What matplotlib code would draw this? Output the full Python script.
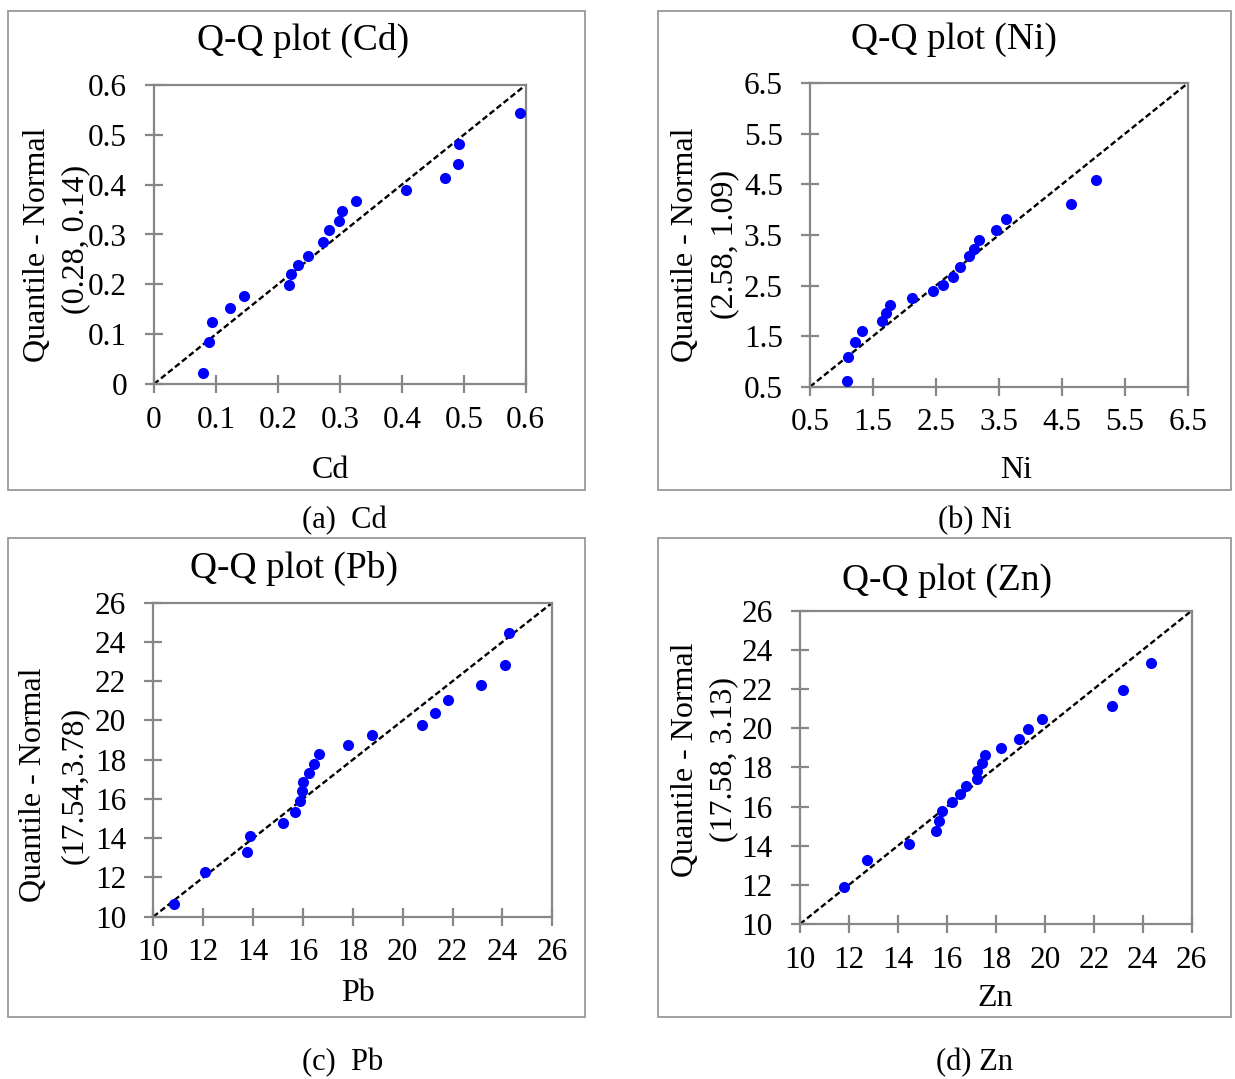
import matplotlib
matplotlib.use('Agg')
import matplotlib.pyplot as plt
from matplotlib.patches import Rectangle

plt.rcParams['font.family'] = 'Liberation Serif'

W, H = 1235, 1079

# ---------------- data ----------------
cd_x = [0.079, 0.089, 0.093, 0.123, 0.146, 0.218, 0.221, 0.233, 0.248, 0.273,
        0.283, 0.298, 0.304, 0.326, 0.406, 0.469, 0.491, 0.493, 0.590]
cd_y = [0.023, 0.085, 0.124, 0.153, 0.177, 0.199, 0.220, 0.238, 0.257, 0.284,
        0.309, 0.327, 0.347, 0.367, 0.389, 0.414, 0.442, 0.481, 0.543]
cd_ticks = [0, 0.1, 0.2, 0.3, 0.4, 0.5, 0.6]
cd_labels = ['0', '0.1', '0.2', '0.3', '0.4', '0.5', '0.6']

ni_x = [1.08, 1.11, 1.21, 1.33, 1.65, 1.71, 1.77, 2.12, 2.45, 2.62,
        2.77, 2.88, 3.02, 3.11, 3.19, 3.45, 3.62, 4.65, 5.04]
ni_y = [0.61, 1.08, 1.38, 1.60, 1.80, 1.96, 2.11, 2.25, 2.40, 2.52,
        2.66, 2.87, 3.08, 3.23, 3.40, 3.59, 3.81, 4.11, 4.58]
ni_ticks = [0.5, 1.5, 2.5, 3.5, 4.5, 5.5, 6.5]
ni_labels = ['0.5', '1.5', '2.5', '3.5', '4.5', '5.5', '6.5']

pb_x = [10.84, 12.09, 13.76, 13.86, 15.19, 15.69, 15.87, 15.96, 15.99, 16.23,
        16.43, 16.64, 17.81, 18.76, 20.76, 21.28, 21.82, 23.14, 24.09, 24.28]
pb_y = [10.65, 12.29, 13.31, 14.09, 14.76, 15.35, 15.88, 16.39, 16.86, 17.32,
        17.78, 18.27, 18.75, 19.24, 19.78, 20.36, 21.02, 21.79, 22.81, 24.47]

zn_x = [11.81, 12.72, 14.44, 15.54, 15.68, 15.80, 16.20, 16.55, 16.77, 17.23,
        17.23, 17.45, 17.56, 18.21, 18.93, 19.30, 19.89, 22.76, 23.18, 24.34]
zn_y = [11.89, 13.25, 14.09, 14.77, 15.28, 15.75, 16.21, 16.64, 17.05, 17.39,
        17.81, 18.20, 18.61, 19.00, 19.46, 19.94, 20.47, 21.13, 21.95, 23.33]

big_ticks = [10, 12, 14, 16, 18, 20, 22, 24, 26]
big_labels = ['10', '12', '14', '16', '18', '20', '22', '24', '26']

GRAY = '#878787'


def fx(x):
    return x / W


def fy(y):
    return 1 - y / H


def panel(fig, ax_px, box_px, x, y, ticks, labels, title, title_px,
          xlabel, xlabel_px, ylab1_px, ylab2, ylab2_px, caption, caption_px):
    # outer gray box
    x0, y0, x1, y1 = box_px
    fig.add_artist(Rectangle((fx(x0), fy(y1)), (x1 - x0) / W, (y1 - y0) / H,
                             transform=fig.transFigure, fill=False,
                             edgecolor='#999999', linewidth=1.3))
    a0, b0, a1, b1 = ax_px
    ax = fig.add_axes([fx(a0), fy(b1), (a1 - a0) / W, (b1 - b0) / H])
    lo, hi = ticks[0], ticks[-1]
    ax.plot([lo, hi], [lo, hi], color='black', linestyle=(0, (2.5, 1.3)),
            linewidth=1.7, zorder=2)
    ax.scatter(x, y, s=64, color='#0000FF', zorder=3, linewidths=0)
    ax.set_xlim(lo, hi)
    ax.set_ylim(lo, hi)
    ax.set_xticks(ticks, labels)
    ax.set_yticks(ticks, labels)
    for sp in ax.spines.values():
        sp.set_color(GRAY)
        sp.set_linewidth(1.6)
    ax.tick_params(direction='inout', length=13, width=1.6, color=GRAY,
                   labelsize=22.5, labelcolor='black')
    ax.tick_params(axis='y', pad=13)
    ax.tick_params(axis='x', pad=9)

    fig.text(fx(title_px[0]), fy(title_px[1]), title, fontsize=27,
             ha='center', va='center')
    fig.text(fx(xlabel_px[0]), fy(xlabel_px[1]), xlabel, fontsize=23,
             ha='center', va='baseline')
    fig.text(fx(ylab1_px[0]), fy(ylab1_px[1]), 'Quantile - Normal', fontsize=23,
             ha='center', va='center', rotation=90)
    fig.text(fx(ylab2_px[0]), fy(ylab2_px[1]), ylab2, fontsize=23,
             ha='center', va='center', rotation=90)
    fig.text(fx(caption_px[0]), fy(caption_px[1]), caption, fontsize=22,
             ha='center', va='center')
    return ax


fig = plt.figure(figsize=(W / 100, H / 100), dpi=100)

panel(fig, (154, 85, 525.7, 384), (8, 11, 585, 490), cd_x, cd_y, cd_ticks, cd_labels,
      'Q-Q plot (Cd)', (303.5, 40), 'Cd', (330, 478),
      (37.5, 244.5), '(0.28, 0.14)', (75.5, 239), '(a)  Cd', (344, 521))

panel(fig, (810, 83.3, 1187.7, 386.7), (658, 11, 1231, 490), ni_x, ni_y, ni_ticks, ni_labels,
      'Q-Q plot (Ni)', (954, 40), 'Ni', (1016, 478),
      (686, 244.5), '(2.58, 1.09)', (724.5, 244), '(b) Ni', (975, 521))

panel(fig, (153.3, 602.7, 552.3, 916.7), (8, 538, 585, 1017), pb_x, pb_y, big_ticks, big_labels,
      'Q-Q plot (Pb)', (294, 568), 'Pb', (358, 1001),
      (33.5, 784.5), '(17.54,3.78)', (74.5, 785), '(c)  Pb', (342.5, 1063))

panel(fig, (800, 610.7, 1191.7, 924), (658, 538, 1231, 1017), zn_x, zn_y, big_ticks, big_labels,
      'Q-Q plot (Zn)', (947.5, 581), 'Zn', (995, 1006),
      (686, 759.5), '(17.58, 3.13)', (724, 759.5), '(d) Zn', (975, 1063))

fig.savefig('out.png', dpi=100)
